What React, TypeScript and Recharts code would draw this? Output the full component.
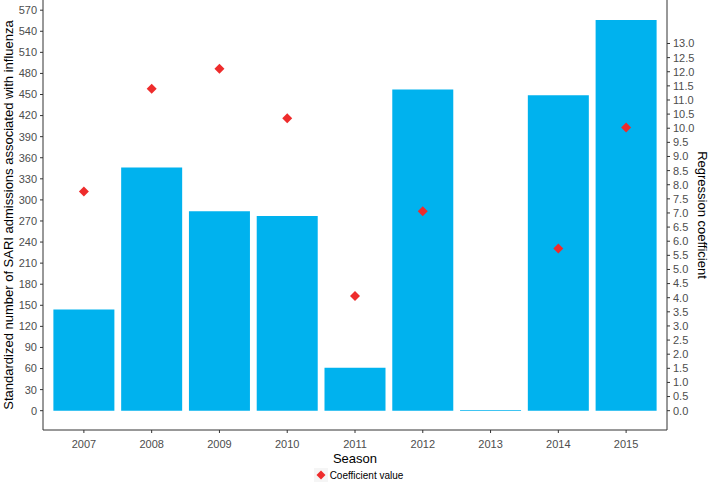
import React from 'react';
import { ComposedChart, Bar, Line, XAxis, YAxis, Legend } from 'recharts';

const seasons = ['2007', '2008', '2009', '2010', '2011', '2012', '2013', '2014', '2015'];
const admissions = [144, 346, 284, 277, 61, 457, 1, 449, 556];
const coefficients: (number | null)[] = [7.76, 11.4, 12.11, 10.35, 4.06, 7.06, null, 5.74, 10.03];
const leftTicks = [0, 30, 60, 90, 120, 150, 180, 210, 240, 270, 300, 330, 360, 390, 420, 450, 480, 510, 540, 570];
const rightTicks = [0, 0.5, 1, 1.5, 2, 2.5, 3, 3.5, 4, 4.5, 5, 5.5, 6, 6.5, 7, 7.5, 8, 8.5, 9, 9.5, 10, 10.5, 11, 11.5, 12, 12.5, 13];

const data = seasons.map((s, i) => ({ season: s, admissions: admissions[i], coef: coefficients[i] }));

const FONT = 'Liberation Sans, Arial, sans-serif';
const BAR = '#00B2EE';
const RED = '#EE2C2C';
const TICK_COLOR = '#4D4D4D';
const AXIS_COLOR = '#333333';

const Diamond = (props: any) => {
  const { cx, cy, value } = props;
  if (value === null || value === undefined || cy === null || cy === undefined || isNaN(cy)) return <g />;
  const r = 5;
  return <path d={`M${cx},${cy - r}L${cx + r},${cy}L${cx},${cy + r}L${cx - r},${cy}Z`} fill={RED} />;
};

const LegendContent = () => (
  <div style={{ display: 'flex', justifyContent: 'center', alignItems: 'center', height: 14, paddingLeft: 8, fontFamily: FONT, fontSize: 10, color: '#000' }}>
    <svg width={14} height={14} style={{ marginRight: 2 }}>
      <rect x={0} y={0} width={14} height={14} fill="#F5F5F5" />
      <path d="M7,2.5L11.5,7L7,11.5L2.5,7Z" fill={RED} />
    </svg>
    <span>Coefficient value</span>
  </div>
);

export default function App() {
  return (
    <div style={{ position: 'absolute', left: 0, top: 0, width: 709, height: 482, background: '#fff' }}>
      <ComposedChart width={709} height={482} data={data} margin={{ top: 0, right: 0, bottom: 0, left: 0 }} barCategoryGap="5%">
        <XAxis
          dataKey="season"
          height={38}
          padding={{ left: 7, right: 7 }}
          tickSize={3}
          tickMargin={7}
          stroke={AXIS_COLOR}
          tick={{ fill: TICK_COLOR, fontSize: 11, fontFamily: FONT }}
          tickLine={{ stroke: AXIS_COLOR }}
          label={{ value: 'Season', position: 'insideBottom', offset: 5, style: { fill: '#000', fontSize: 13, fontFamily: FONT } }}
        />
        <YAxis
          yAxisId="left"
          width={43}
          domain={[-27.5, 584.5]}
          allowDataOverflow
          ticks={leftTicks}
          interval={0}
          tickSize={3}
          tickMargin={3}
          stroke={AXIS_COLOR}
          tick={{ fill: TICK_COLOR, fontSize: 11, fontFamily: FONT }}
          label={{
            value: 'Standardized number of SARI admissions associated with influenza',
            angle: -90,
            position: 'insideLeft',
            offset: 8,
            style: { textAnchor: 'middle', fill: '#000', fontSize: 13, fontFamily: FONT },
          }}
        />
        <YAxis
          yAxisId="right"
          orientation="right"
          width={42}
          domain={[-0.684, 14.54]}
          allowDataOverflow
          ticks={rightTicks}
          interval={0}
          tickSize={3}
          tickMargin={3}
          tickFormatter={(v: number) => v.toFixed(1)}
          stroke={AXIS_COLOR}
          tick={{ fill: TICK_COLOR, fontSize: 11, fontFamily: FONT }}
          label={{
            value: 'Regression coefficient',
            angle: 90,
            position: 'insideRight',
            offset: 6,
            style: { textAnchor: 'middle', fill: '#000', fontSize: 13, fontFamily: FONT },
          }}
        />
        <Legend verticalAlign="bottom" height={14} content={<LegendContent />} />
        <Bar yAxisId="left" dataKey="admissions" fill={BAR} isAnimationActive={false} legendType="none" />
        <Line
          yAxisId="right"
          dataKey="coef"
          stroke="none"
          dot={<Diamond />}
          activeDot={false}
          connectNulls={false}
          isAnimationActive={false}
        />
      </ComposedChart>
    </div>
  );
}
